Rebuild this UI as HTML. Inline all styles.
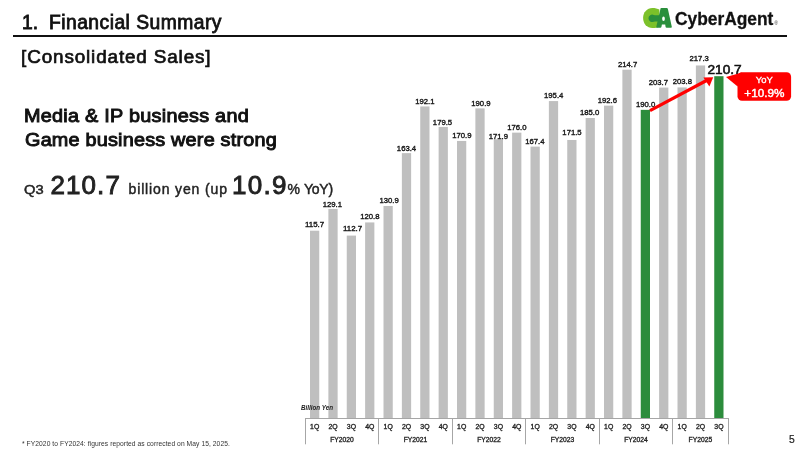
<!DOCTYPE html>
<html lang="en"><head><meta charset="utf-8"><title>Financial Summary - Consolidated Sales</title>
<style>
html,body{margin:0;padding:0;background:#fff;}
body{width:800px;height:450px;position:relative;overflow:hidden;font-family:"Liberation Sans", sans-serif;}
.t{position:absolute;margin:0;padding:0;white-space:nowrap;line-height:1;transform-origin:0 0;}
#rule{position:absolute;left:13px;top:35.4px;width:774px;height:1.6px;background:#111;}
#tnum{left:22.10px;top:12.66px;font-size:19.3px;font-weight:400;color:#111;letter-spacing:0.000px;-webkit-text-stroke:0.8px #111;}
#title{left:49.02px;top:12.66px;font-size:19.3px;font-weight:400;color:#111;letter-spacing:0.461px;-webkit-text-stroke:0.8px #111;}
#sub{left:21.10px;top:48.20px;font-size:18.9px;font-weight:400;color:#111;letter-spacing:0.853px;-webkit-text-stroke:0.7px #111;}
#h1a{left:23.62px;top:106.50px;font-size:18.9px;font-weight:400;color:#111;letter-spacing:0.245px;transform:scaleX(1.0500);-webkit-text-stroke:0.95px #111;}
#h1b{left:24.52px;top:131.20px;font-size:18.9px;font-weight:400;color:#111;letter-spacing:0.188px;transform:scaleX(1.0500);-webkit-text-stroke:0.95px #111;}
#q3{left:24.00px;top:183.19px;font-size:13.6px;font-weight:400;color:#222;letter-spacing:0.000px;transform:scaleX(1.0800);-webkit-text-stroke:0.5px #222;}
#big1{left:50.50px;top:171.99px;font-size:26px;font-weight:400;color:#222;letter-spacing:1.080px;-webkit-text-stroke:0.9px #222;}
#by{left:128.52px;top:182.15px;font-size:14px;font-weight:400;color:#222;letter-spacing:0.861px;-webkit-text-stroke:0.45px #222;}
#big2{left:232.12px;top:171.99px;font-size:26px;font-weight:400;color:#222;letter-spacing:1.260px;-webkit-text-stroke:0.9px #222;}
#pct{left:287.52px;top:182.15px;font-size:14px;font-weight:400;color:#222;letter-spacing:0.000px;-webkit-text-stroke:0.45px #222;}
#yoy{left:304.02px;top:182.15px;font-size:14px;font-weight:400;color:#222;letter-spacing:-0.240px;-webkit-text-stroke:0.45px #222;}
#foot{left:22.00px;top:441.23px;font-size:6.7px;font-weight:400;color:#333;letter-spacing:0.069px;}
#pg{left:789.00px;top:434.68px;font-size:10.3px;font-weight:400;color:#222;letter-spacing:0.000px;-webkit-text-stroke:0.2px #222;}
</style></head>
<body>
<div id="rule"></div>
<span class="t" id="tnum">1.</span>
<h1 class="t" id="title">Financial Summary</h1>
<h2 class="t" id="sub">[Consolidated Sales]</h2>
<p class="t" id="h1a">Media &amp; IP business and</p>
<p class="t" id="h1b">Game business were strong</p>
<span class="t" id="q3">Q3</span>
<span class="t" id="big1">210.7</span>
<span class="t" id="by">billion yen (up</span>
<span class="t" id="big2">10.9</span>
<span class="t" id="pct">%</span>
<span class="t" id="yoy">YoY)</span>
<p class="t" id="foot">* FY2020 to FY2024: figures reported as corrected on May 15, 2025.</p>
<div class="t" id="pg">5</div>
<svg id="chart" width="800" height="450" viewBox="0 0 800 450" style="position:absolute;left:0;top:0">
<rect x="310.00" y="230.71" width="9.25" height="187.79" fill="#bfbfbf"/>
<rect x="328.38" y="208.92" width="9.25" height="209.58" fill="#bfbfbf"/>
<rect x="346.75" y="235.59" width="9.25" height="182.91" fill="#bfbfbf"/>
<rect x="365.12" y="222.42" width="9.25" height="196.08" fill="#bfbfbf"/>
<rect x="383.50" y="205.99" width="9.25" height="212.51" fill="#bfbfbf"/>
<rect x="401.88" y="153.13" width="9.25" height="265.37" fill="#bfbfbf"/>
<rect x="420.25" y="106.45" width="9.25" height="312.05" fill="#bfbfbf"/>
<rect x="438.62" y="126.94" width="9.25" height="291.56" fill="#bfbfbf"/>
<rect x="457.00" y="140.93" width="9.25" height="277.57" fill="#bfbfbf"/>
<rect x="475.38" y="108.40" width="9.25" height="310.10" fill="#bfbfbf"/>
<rect x="493.75" y="139.30" width="9.25" height="279.20" fill="#bfbfbf"/>
<rect x="512.12" y="132.64" width="9.25" height="285.86" fill="#bfbfbf"/>
<rect x="530.50" y="146.62" width="9.25" height="271.88" fill="#bfbfbf"/>
<rect x="548.88" y="101.08" width="9.25" height="317.42" fill="#bfbfbf"/>
<rect x="567.25" y="139.96" width="9.25" height="278.54" fill="#bfbfbf"/>
<rect x="585.62" y="118.00" width="9.25" height="300.50" fill="#bfbfbf"/>
<rect x="604.00" y="105.64" width="9.25" height="312.86" fill="#bfbfbf"/>
<rect x="622.38" y="69.69" width="9.25" height="348.81" fill="#bfbfbf"/>
<rect x="640.75" y="109.86" width="9.25" height="308.64" fill="#2c8c3c"/>
<rect x="659.12" y="87.58" width="9.25" height="330.92" fill="#bfbfbf"/>
<rect x="677.50" y="87.42" width="9.25" height="331.08" fill="#bfbfbf"/>
<rect x="695.88" y="65.46" width="9.25" height="353.04" fill="#bfbfbf"/>
<rect x="714.25" y="76.20" width="9.25" height="342.30" fill="#2c8c3c"/>
<g font-family='"Liberation Sans", sans-serif' font-size="7.4" font-weight="400" stroke="#1a1a1a" stroke-width="0.38" fill="#222" text-anchor="middle">
<text x="314.55" y="226.50" textLength="19.3" lengthAdjust="spacingAndGlyphs">115.7</text>
<text x="332.40" y="206.60" textLength="19.3" lengthAdjust="spacingAndGlyphs">129.1</text>
<text x="352.60" y="231.30" textLength="19.3" lengthAdjust="spacingAndGlyphs">112.7</text>
<text x="369.80" y="218.90" textLength="19.3" lengthAdjust="spacingAndGlyphs">120.8</text>
<text x="389.10" y="203.40" textLength="19.3" lengthAdjust="spacingAndGlyphs">130.9</text>
<text x="406.50" y="150.60" textLength="19.3" lengthAdjust="spacingAndGlyphs">163.4</text>
<text x="424.85" y="104.10" textLength="19.3" lengthAdjust="spacingAndGlyphs">192.1</text>
<text x="442.50" y="124.50" textLength="19.3" lengthAdjust="spacingAndGlyphs">179.5</text>
<text x="461.90" y="138.00" textLength="19.3" lengthAdjust="spacingAndGlyphs">170.9</text>
<text x="480.95" y="106.10" textLength="19.3" lengthAdjust="spacingAndGlyphs">190.9</text>
<text x="498.30" y="138.50" textLength="19.3" lengthAdjust="spacingAndGlyphs">171.9</text>
<text x="516.90" y="130.20" textLength="19.3" lengthAdjust="spacingAndGlyphs">176.0</text>
<text x="534.85" y="144.30" textLength="19.3" lengthAdjust="spacingAndGlyphs">167.4</text>
<text x="553.70" y="97.80" textLength="19.3" lengthAdjust="spacingAndGlyphs">195.4</text>
<text x="572.00" y="135.20" textLength="19.3" lengthAdjust="spacingAndGlyphs">171.5</text>
<text x="589.60" y="114.80" textLength="19.3" lengthAdjust="spacingAndGlyphs">185.0</text>
<text x="607.30" y="102.60" textLength="19.3" lengthAdjust="spacingAndGlyphs">192.6</text>
<text x="627.60" y="67.30" textLength="19.3" lengthAdjust="spacingAndGlyphs">214.7</text>
<text x="645.60" y="106.60" textLength="19.3" lengthAdjust="spacingAndGlyphs">190.0</text>
<text x="658.30" y="85.00" textLength="19.3" lengthAdjust="spacingAndGlyphs">203.7</text>
<text x="682.30" y="84.30" textLength="19.3" lengthAdjust="spacingAndGlyphs">203.8</text>
<text x="699.20" y="61.20" textLength="19.3" lengthAdjust="spacingAndGlyphs">217.3</text>
</g>
<text x="707.5" y="74.2" font-family='"Liberation Sans", sans-serif' font-size="12.4" font-weight="400" fill="#111" stroke="#111" stroke-width="0.55" textLength="34.2" lengthAdjust="spacingAndGlyphs">210.7</text>
<g stroke="#a6a6a6" stroke-width="1" fill="none">
<path d="M305 418.5H728.5"/>
<path d="M305.5 418V444.3"/>
<path d="M378.5 418V444.3"/>
<path d="M452.5 418V444.3"/>
<path d="M525.5 418V444.3"/>
<path d="M599.5 418V444.3"/>
<path d="M672.5 418V444.3"/>
<path d="M728.5 418V444.3"/>
</g>
<g font-family='"Liberation Sans", sans-serif' font-size="6.3" font-weight="400" stroke="#222" stroke-width="0.3" fill="#222" text-anchor="middle">
<text x="314.73" y="429" textLength="9.2" lengthAdjust="spacingAndGlyphs">1Q</text>
<text x="333.10" y="429" textLength="9.2" lengthAdjust="spacingAndGlyphs">2Q</text>
<text x="351.48" y="429" textLength="9.2" lengthAdjust="spacingAndGlyphs">3Q</text>
<text x="369.85" y="429" textLength="9.2" lengthAdjust="spacingAndGlyphs">4Q</text>
<text x="388.23" y="429" textLength="9.2" lengthAdjust="spacingAndGlyphs">1Q</text>
<text x="406.60" y="429" textLength="9.2" lengthAdjust="spacingAndGlyphs">2Q</text>
<text x="424.98" y="429" textLength="9.2" lengthAdjust="spacingAndGlyphs">3Q</text>
<text x="443.35" y="429" textLength="9.2" lengthAdjust="spacingAndGlyphs">4Q</text>
<text x="461.73" y="429" textLength="9.2" lengthAdjust="spacingAndGlyphs">1Q</text>
<text x="480.10" y="429" textLength="9.2" lengthAdjust="spacingAndGlyphs">2Q</text>
<text x="498.48" y="429" textLength="9.2" lengthAdjust="spacingAndGlyphs">3Q</text>
<text x="516.85" y="429" textLength="9.2" lengthAdjust="spacingAndGlyphs">4Q</text>
<text x="535.23" y="429" textLength="9.2" lengthAdjust="spacingAndGlyphs">1Q</text>
<text x="553.60" y="429" textLength="9.2" lengthAdjust="spacingAndGlyphs">2Q</text>
<text x="571.98" y="429" textLength="9.2" lengthAdjust="spacingAndGlyphs">3Q</text>
<text x="590.35" y="429" textLength="9.2" lengthAdjust="spacingAndGlyphs">4Q</text>
<text x="608.73" y="429" textLength="9.2" lengthAdjust="spacingAndGlyphs">1Q</text>
<text x="627.10" y="429" textLength="9.2" lengthAdjust="spacingAndGlyphs">2Q</text>
<text x="645.48" y="429" textLength="9.2" lengthAdjust="spacingAndGlyphs">3Q</text>
<text x="663.85" y="429" textLength="9.2" lengthAdjust="spacingAndGlyphs">4Q</text>
<text x="682.23" y="429" textLength="9.2" lengthAdjust="spacingAndGlyphs">1Q</text>
<text x="700.60" y="429" textLength="9.2" lengthAdjust="spacingAndGlyphs">2Q</text>
<text x="718.98" y="429" textLength="9.2" lengthAdjust="spacingAndGlyphs">3Q</text>
<text x="342.05" y="442.1" textLength="23.6" lengthAdjust="spacingAndGlyphs">FY2020</text>
<text x="415.55" y="442.1" textLength="23.6" lengthAdjust="spacingAndGlyphs">FY2021</text>
<text x="489.05" y="442.1" textLength="23.6" lengthAdjust="spacingAndGlyphs">FY2022</text>
<text x="562.55" y="442.1" textLength="23.6" lengthAdjust="spacingAndGlyphs">FY2023</text>
<text x="636.05" y="442.1" textLength="23.6" lengthAdjust="spacingAndGlyphs">FY2024</text>
<text x="700.36" y="442.1" textLength="23.6" lengthAdjust="spacingAndGlyphs">FY2025</text>
</g>
<text x="301" y="409.5" font-family='"Liberation Sans", sans-serif' font-size="6.4" font-weight="700" font-style="italic" fill="#222" textLength="32" lengthAdjust="spacingAndGlyphs">Billion Yen</text>
<g fill="#ff0000" stroke="none">
<path d="M650 110.6 L706.5 80.5" stroke="#ff0000" stroke-width="3.2" fill="none"/>
<path d="M713.2 77.2 L703.4 77.4 L709.4 86.4 Z"/>
<rect x="737.5" y="72.2" width="53.6" height="28.5" rx="4.5" ry="4.5"/>
<path d="M726 77 L742 72.5 L737.6 86.5 Z"/>
</g>
<text x="764.3" y="83.2" font-family='"Liberation Sans", sans-serif' font-size="8.8" fill="#fff" stroke="#fff" stroke-width="0.3" text-anchor="middle" textLength="17" lengthAdjust="spacingAndGlyphs">YoY</text>
<text x="764.3" y="96.5" font-family='"Liberation Sans", sans-serif' font-size="10" font-weight="400" fill="#fff" stroke="#fff" stroke-width="0.4" text-anchor="middle" textLength="40" lengthAdjust="spacingAndGlyphs">+10.9%</text>
<g id="logo">
<path d="M659.4 9.500C657.600 8.500 655.100 7.900 652.400 7.900C647 7.900 643.100 12.200 643.100 18C643.100 23.800 647 28 652.400 28C655.100 28 657.600 27.400 659.400 26.400Z" fill="#7cc12a"/>
<path d="M653.800 14.900A3.750 3.750 0 1 0 653.800 21.700L655 21.500L660 21.500L660 15.300L655 15.300Z" fill="#2a8f3c"/>
<path d="M660.600 8.200Q660.900 8.100 661.400 8.100L666.700 8.100Q667.700 8.100 667.900 9L671.800 26.700Q672 27.700 671 27.700L666.600 27.700Q665.800 27.700 665.600 26.900L665.200 24.600L661.900 24.600L661.400 26.900Q661.200 27.700 660.400 27.700L657 27.700Q656 27.700 656.300 26.700Z" fill="#2a8f3c"/>
<ellipse cx="663.500" cy="18.800" rx="1.350" ry="2.300" fill="#fff"/>
<text x="675" y="24.600" font-family='"Liberation Sans", sans-serif' font-size="19.200" font-weight="700" fill="#111" stroke="#111" stroke-width="0.300" textLength="98.400" lengthAdjust="spacingAndGlyphs">CyberAgent</text>
<text x="774.600" y="25.400" font-family='"Liberation Sans", sans-serif' font-size="4.600" fill="#222">®</text>
</g>
</svg>
</body></html>
